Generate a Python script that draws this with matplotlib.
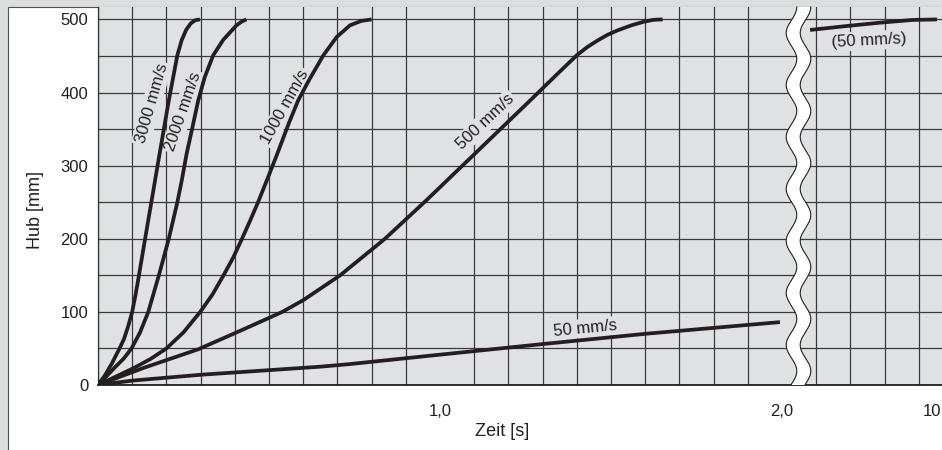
import numpy as np
import matplotlib
matplotlib.use("Agg")
import matplotlib.pyplot as plt
from matplotlib.patches import Rectangle, Polygon
from matplotlib.ticker import FixedLocator, FixedFormatter
from matplotlib.transforms import ScaledTranslation

plt.rcParams['font.family'] = ['Liberation Sans', 'DejaVu Sans']

# ---- data: stroke (mm) over time (s) for each positioning speed ----
t_3000 = [0, 0.02, 0.04, 0.063, 0.076, 0.088, 0.1, 0.11, 0.119, 0.137, 0.156, 0.18, 0.207,
          0.232, 0.245, 0.258, 0.272, 0.285, 0.298]
h_3000 = [0, 13, 29, 50, 63, 80, 100, 124, 148, 198, 250, 316, 389,
          451, 472, 486, 495, 499, 500]

t_2000 = [0, 0.025, 0.049, 0.075, 0.098, 0.123, 0.147, 0.178, 0.207, 0.232, 0.245, 0.259,
          0.275, 0.293, 0.312, 0.337, 0.366, 0.405, 0.42, 0.434]
h_2000 = [0, 12, 24, 36, 50, 72, 100, 150, 200, 250, 280, 316,
          350, 389, 421, 451, 472, 492, 497, 500]

t_1000 = [0, 0.05, 0.108, 0.155, 0.2, 0.25, 0.299, 0.335, 0.367, 0.395, 0.421, 0.445, 0.468,
          0.498, 0.524, 0.558, 0.585, 0.617, 0.659, 0.698, 0.737, 0.77, 0.8]
h_1000 = [0, 11, 24, 36, 50, 72, 100, 124, 150, 174, 200, 225, 250,
          285, 316, 358, 389, 417, 451, 476, 492, 498, 500]

t_500 = [0, 0.137, 0.294, 0.42, 0.539, 0.6, 0.708, 0.839, 0.961, 1.05, 1.15, 1.25, 1.34,
         1.40, 1.43, 1.46, 1.49, 1.519, 1.56, 1.597, 1.625, 1.651]
h_500 = [0, 24, 49, 75, 100, 116, 150, 200, 253, 293, 338, 383, 424,
         451, 462, 471, 479, 485, 492, 497, 499.5, 500]

t_50 = [0, 0.1, 0.3, 0.649, 0.736, 1.0, 1.3, 1.6, 1.994]
h_50 = [0, 6, 14, 25, 28.6, 41.5, 56, 70, 86]

# 50 mm/s continued after the axis break
t_50_end = [9.70, 9.787, 9.866, 9.943, 10.0]
h_50_end = [485.6, 491, 495.6, 499.3, 500]

y_ticks = [0, 100, 200, 300, 400, 500]
x_ticks = [1.0, 2.0, 10.0]
x_tick_labels = ["1,0", "2,0", "10"]

# ---- broken time axis: 0..2 s linear, then a short gap, then the end near 10 s ----
T_BREAK = 2.0
T_RIGHT = 9.70
U_RIGHT = 2.082
K_RIGHT = 1.237


def fwd(t):
    t = np.asarray(t, dtype=float)
    mid = T_BREAK + (t - T_BREAK) * (U_RIGHT - T_BREAK) / (T_RIGHT - T_BREAK)
    right = U_RIGHT + (t - T_RIGHT) * K_RIGHT
    return np.where(t <= T_BREAK, t, np.where(t < T_RIGHT, mid, right))


def inv(u):
    u = np.asarray(u, dtype=float)
    mid = T_BREAK + (u - T_BREAK) * (T_RIGHT - T_BREAK) / (U_RIGHT - T_BREAK)
    right = T_RIGHT + (u - U_RIGHT) / K_RIGHT
    return np.where(u <= T_BREAK, u, np.where(u < U_RIGHT, mid, right))


BG = '#e0e1e3'
INK = '#231f20'
GRID = '#3a3a3a'

fig = plt.figure(figsize=(9.42, 4.5), dpi=100)
fig.patch.set_facecolor('#dcdddf')
fig.patches.append(Rectangle((8 / 942, -0.01), 1.0, 1 - 7 / 450 + 0.01, transform=fig.transFigure,
                             facecolor='white', edgecolor='#505050', lw=0.8, zorder=-5))

ax = fig.add_axes([98 / 942, 65 / 450, 844 / 942, 378 / 450])
ax.set_zorder(1)
ax.set_facecolor(BG)
ax.set_xscale('function', functions=(fwd, inv))
u_max = 844 / 342
ax.set_xlim(0, float(inv(u_max)))
ax.set_ylim(0, 517)

# grid every 0.1 units of the drawn axis, every 50 mm
grid_t = [float(inv(k / 10)) for k in range(0, 25)]
ax.xaxis.set_major_locator(FixedLocator(x_ticks))
ax.xaxis.set_major_formatter(FixedFormatter(x_tick_labels))
ax.xaxis.set_minor_locator(FixedLocator(grid_t))
ax.yaxis.set_major_locator(FixedLocator(y_ticks))
ax.yaxis.set_minor_locator(FixedLocator(list(range(50, 501, 100))))
ax.grid(which='major', axis='y', color=GRID, lw=0.9)
ax.grid(which='minor', color=GRID, lw=0.9)
ax.set_axisbelow(True)
ax.tick_params(which='both', length=0, labelsize=12, colors=INK)
ax.tick_params(axis='x', pad=14)
ax.tick_params(axis='y', pad=7)

for s in ['top', 'right']:
    ax.spines[s].set_visible(False)
ax.spines['left'].set_color('#333333')
ax.spines['left'].set_linewidth(0.9)
ax.spines['bottom'].set_color(INK)
ax.spines['bottom'].set_linewidth(1.3)

lw = 2.7
for tt, hh in [(t_3000, h_3000), (t_2000, h_2000), (t_1000, h_1000), (t_500, h_500),
               (t_50, h_50), (t_50_end, h_50_end)]:
    ax.plot(tt, hh, color=INK, lw=lw, solid_capstyle='butt', solid_joinstyle='round', zorder=3)

box = dict(facecolor=BG, edgecolor='none', pad=1.5)
labels = [
    ("3000 mm/s", 0.157, 385, 74),
    ("2000 mm/s", 0.249, 374, 71),
    ("1000 mm/s", 0.547, 380, 61),
    ("500 mm/s", 1.132, 360, 43.5),
    ("50 mm/s", 1.426, 77.6, 5.5),
    ("(50 mm/s)", float(inv(2.254)), 471, 3),
]
for txt, xt, yt, rot in labels:
    ax.text(xt, yt, txt, rotation=rot, rotation_mode='anchor', ha='center', va='center',
            fontsize=12, color=INK, bbox=box, zorder=2)

# wavy break band across the time axis
yy = np.linspace(0, 378, 400)
xc = 798.5 - 5.3 * np.cos(2 * np.pi * (yy - 26) / 52)
xl = (xc - 7 - 98) / 844
xr = (xc + 7 - 98) / 844
ya = 1 - yy / 378
band = Polygon(np.column_stack([np.r_[xl, xr[::-1]], np.r_[ya, ya[::-1]]]), closed=True,
               transform=ax.transAxes, facecolor='white', edgecolor='none', zorder=5, clip_on=False)
ax.add_patch(band)
ax.plot(xl, ya, transform=ax.transAxes, color=INK, lw=0.8, zorder=6, clip_on=False)
ax.plot(xr, ya, transform=ax.transAxes, color=INK, lw=0.8, zorder=6, clip_on=False)

fig.text(35 / 942, 1 - 210 / 450, "Hub [mm]", rotation=90, ha='center', va='center',
         fontsize=13, color=INK)
fig.text(502 / 942, 1 - 432 / 450, "Zeit [s]", ha='center', va='center', fontsize=13, color=INK)

# keep the last time label inside the figure edge
fig.canvas.draw()
last = ax.get_xticklabels()[-1]
last.set_transform(last.get_transform() + ScaledTranslation(-5 / 100, 0, fig.dpi_scale_trans))

fig.savefig("out.png", dpi=100, facecolor=fig.get_facecolor())
